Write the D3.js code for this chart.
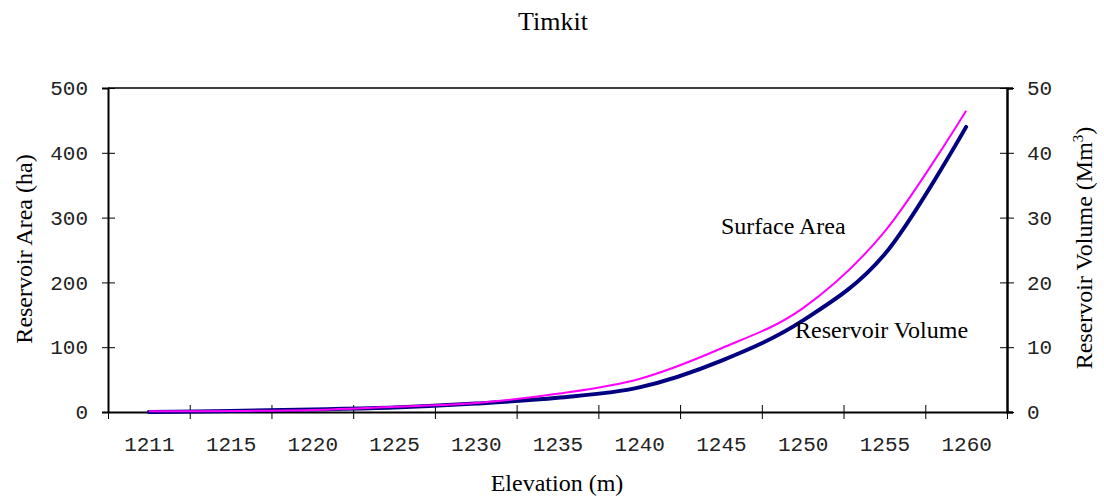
<!DOCTYPE html>
<html>
<head>
<meta charset="utf-8">
<script src="https://cdn.jsdelivr.net/npm/d3@7"></script>
<style>
  html, body { margin: 0; padding: 0; background: #fff; }
  svg { display: block; }
</style>
</head>
<body>
<svg id="chart" width="1104" height="501"></svg>
<script>
const elevations = ["1211", "1215", "1220", "1225", "1230", "1235", "1240", "1245", "1250", "1255", "1260"];
const surfaceArea = [1, 1.5, 3, 8, 14, 28, 51, 98, 160, 278, 465];      // ha (left axis)
const reservoirVolume = [0, 0.15, 0.4, 0.7, 1.3, 2.2, 3.8, 7.9, 14.1, 24.3, 44.0]; // Mm3 (right axis)
const leftTicks = [0, 100, 200, 300, 400, 500];
const rightTicks = [0, 10, 20, 30, 40, 50];

const svg = d3.select("#chart");
const M = { left: 108, right: 1007, top: 88, bottom: 412 };

const xIdx = d3.scaleLinear().domain([0, elevations.length]).range([M.left, M.right]);
const yL = d3.scaleLinear().domain([0, 500]).range([M.bottom, M.top]);
const yR = d3.scaleLinear().domain([0, 50]).range([M.bottom, M.top]);

const monoFont = "'Liberation Mono', 'Courier New', monospace";
const serifFont = "'Liberation Serif', 'Times New Roman', serif";

// Frame (top border)
svg.append("line").attr("x1", M.left).attr("x2", M.right).attr("y1", M.top).attr("y2", M.top)
  .attr("stroke", "#000").attr("stroke-width", 1.5);

// Left axis
const gL = svg.append("g").attr("transform", `translate(${M.left},0)`)
  .call(d3.axisLeft(yL).tickValues(leftTicks).tickSize(6).tickPadding(14));
gL.selectAll(".tick line").attr("x1", 7).attr("x2", -6).attr("stroke", "#000");
gL.select(".domain").attr("stroke", "#000").attr("stroke-width", 2);

// Right axis
const gR = svg.append("g").attr("transform", `translate(${M.right},0)`)
  .call(d3.axisRight(yR).tickValues(rightTicks).tickSize(6).tickPadding(14));
gR.selectAll(".tick line").attr("x1", -7).attr("x2", 7).attr("stroke", "#000");
gR.select(".domain").attr("stroke", "#000").attr("stroke-width", 2.5);

// Bottom axis: boundary ticks
const gB = svg.append("g").attr("transform", `translate(0,${M.bottom})`)
  .call(d3.axisBottom(xIdx).tickValues(d3.range(elevations.length + 1)).tickFormat("").tickSizeOuter(0));
gB.selectAll(".tick line").attr("y1", -7).attr("y2", 7).attr("stroke", "#000");
gB.select(".domain").attr("stroke", "#000").attr("stroke-width", 2);

// Bottom axis: labels at category centres
const gBL = svg.append("g").attr("transform", `translate(0,${M.bottom})`)
  .call(d3.axisBottom(xIdx).tickValues(d3.range(elevations.length).map(i => i + 0.5))
    .tickFormat((d, i) => elevations[i]).tickSize(0).tickPadding(24));
gBL.select(".domain").remove();

[gL, gR, gBL].forEach(g => g.selectAll("text")
  .attr("font-family", monoFont).attr("font-size", 21).attr("fill", "#222"));

// Lines (uniform Catmull-Rom, like spreadsheet smoothed lines)
const xPt = (d, i) => xIdx(i + 0.5);
const lineA = d3.line().x(xPt).y(d => yL(d)).curve(d3.curveCatmullRom.alpha(0));
const lineV = d3.line().x(xPt).y(d => yR(d)).curve(d3.curveCatmullRom.alpha(0));

svg.append("path").datum(reservoirVolume).attr("d", lineV)
  .attr("fill", "none").attr("stroke", "#000080").attr("stroke-width", 4).attr("stroke-linecap", "round");
svg.append("path").datum(surfaceArea).attr("d", lineA)
  .attr("fill", "none").attr("stroke", "#FF00FF").attr("stroke-width", 2);

// Title
svg.append("text").attr("x", 553).attr("y", 30).attr("text-anchor", "middle")
  .attr("font-family", serifFont).attr("font-size", 26).text("Timkit");

// Axis titles
svg.append("text").attr("x", 557).attr("y", 491).attr("text-anchor", "middle")
  .attr("font-family", serifFont).attr("font-size", 24).text("Elevation (m)");

svg.append("text").attr("transform", "translate(32,249) rotate(-90)").attr("text-anchor", "middle")
  .attr("font-family", serifFont).attr("font-size", 24).text("Reservoir Area (ha)");

const rt = svg.append("text").attr("transform", "translate(1092,248) rotate(-90)").attr("text-anchor", "middle")
  .attr("font-family", serifFont).attr("font-size", 24);
rt.append("tspan").text("Reservoir Volume (Mm");
rt.append("tspan").attr("dy", -9).attr("font-size", 15).text("3");
rt.append("tspan").attr("dy", 9).text(")");

// Series labels
svg.append("text").attr("x", 721).attr("y", 234)
  .attr("font-family", serifFont).attr("font-size", 24).text("Surface Area");
svg.append("text").attr("x", 795).attr("y", 338)
  .attr("font-family", serifFont).attr("font-size", 24).text("Reservoir Volume");
</script>
</body>
</html>
